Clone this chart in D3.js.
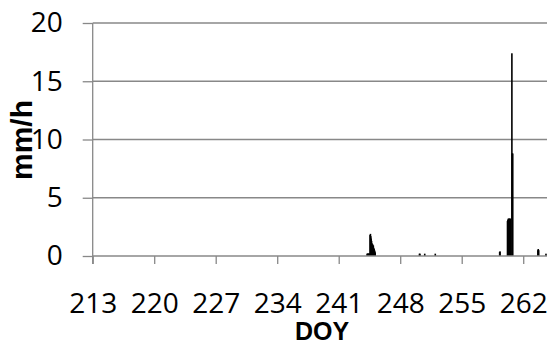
<!DOCTYPE html>
<html>
<head>
<meta charset="utf-8">
<script src="https://cdn.jsdelivr.net/npm/d3@7"></script>
<style>
  html, body { margin: 0; padding: 0; background: #fff; }
  svg { display: block; font-family: "Open Sans", sans-serif; }
</style>
</head>
<body>
<svg id="chart"></svg>
<script>
// hourly rainfall, only the non-zero hours (DOY as fraction of day)
const doy = [
  244.15, 244.19, 244.23, 244.27, 244.31, 244.35, 244.40, 244.44,
  244.48, 244.52, 244.56, 244.60, 244.65,
  244.69, 244.73, 244.77, 244.81, 244.85,
  244.90, 244.94, 244.98, 245.02, 245.06,
  250.10, 250.15, 250.70, 251.90,
  259.23, 259.27,
  260.12, 260.17, 260.21, 260.25, 260.29, 260.33, 260.37, 260.42, 260.46,
  260.62, 260.67, 260.71,
  263.58, 263.62, 263.67, 264.50
];
const rain = [
  0.2, 0.2, 0.2, 0.2, 0.2, 0.2, 0.2, 0.2,
  1.8, 1.9, 1.7, 1.5, 1.3,
  1.1, 1.0, 1.0, 0.9, 0.9,
  0.7, 0.6, 0.5, 0.4, 0.3,
  0.2, 0.2, 0.2, 0.2,
  0.35, 0.4,
  3.0, 3.1, 3.2, 3.2, 3.2, 3.2, 3.2, 3.2, 3.2,
  17.4, 8.8, 8.8,
  0.5, 0.6, 0.5, 0.2
];
const xTicks = [213, 220, 227, 234, 241, 248, 255, 262];
const yTicks = [0, 5, 10, 15, 20];

class RainChart {

  constructor(_config, _data) {
    this.config = {
      parentElement: _config.parentElement,
      containerWidth: 547,
      containerHeight: 345,
      margin: {top: 23, right: 0, bottom: 89, left: 92.7}
    }
    this.data = _data;
    this.initVis();
  }

  initVis() {
    let vis = this;
    const m = vis.config.margin;

    vis.svg = d3.select(vis.config.parentElement)
        .attr('width', vis.config.containerWidth)
        .attr('height', vis.config.containerHeight);

    // 7 days = 61.5 px
    vis.xScale = d3.scaleLinear()
        .domain([213, 265])
        .range([m.left, m.left + 52 * 8.786]);

    vis.yScale = d3.scaleLinear()
        .domain([0, 20])
        .range([vis.config.containerHeight - m.bottom, m.top]);

    vis.chart = vis.svg.append('g');

    // gridlines
    vis.chart.append('g')
      .selectAll('line')
      .data(yTicks.filter(d => d > 0))
      .join('line')
        .attr('x1', m.left)
        .attr('x2', vis.config.containerWidth)
        .attr('y1', d => vis.yScale(d))
        .attr('y2', d => vis.yScale(d))
        .attr('stroke', '#888')
        .attr('stroke-width', 1.3);

    vis.barG = vis.chart.append('g');

    // y axis
    const yAxis = d3.axisLeft(vis.yScale)
        .tickValues(yTicks)
        .tickSize(10)
        .tickPadding(20);
    vis.yAxisG = vis.chart.append('g')
        .attr('transform', `translate(${m.left},0)`)
        .call(yAxis);

    // x axis
    const xAxis = d3.axisBottom(vis.xScale)
        .tickValues(xTicks)
        .tickSize(8)
        .tickPadding(29);
    vis.xAxisG = vis.chart.append('g')
        .attr('transform', `translate(0,${vis.yScale(0)})`)
        .call(xAxis);

    [vis.yAxisG, vis.xAxisG].forEach(g => {
      g.select('.domain').attr('stroke', '#888').attr('stroke-width', 1.3);
      g.selectAll('.tick line').attr('stroke', '#888').attr('stroke-width', 1.3);
      g.selectAll('.tick text')
        .attr('fill', '#000')
        .style('font-family', '"Open Sans", sans-serif')
        .style('font-size', '28px');
    });
    vis.yAxisG.select('.domain').attr('d', `M-0,${vis.yScale(20)}V${vis.yScale(0) + 8}`);
    vis.xAxisG.select('.domain').attr('d', `M${m.left},0H${vis.config.containerWidth}`);

    // axis titles
    vis.chart.append('text')
        .attr('x', 322)
        .attr('y', 340)
        .attr('text-anchor', 'middle')
        .style('font-family', '"Liberation Sans", sans-serif')
        .style('font-size', '25px')
        .style('font-weight', 'bold')
        .text('DOY');

    vis.chart.append('text')
        .attr('transform', 'translate(32,140) rotate(-90)')
        .attr('text-anchor', 'middle')
        .style('font-family', '"Liberation Sans", sans-serif')
        .style('font-size', '30px')
        .style('font-weight', 'bold')
        .text('mm/h');

    vis.updateVis();
  }

  updateVis() {
    let vis = this;
    vis.rows = vis.data.doy.map((d, i) => ({doy: d, value: vis.data.rain[i]}));
    vis.renderVis();
  }

  renderVis() {
    let vis = this;
    const hourW = vis.xScale(213 + 1 / 24) - vis.xScale(213);
    vis.barG.selectAll('rect')
      .data(vis.rows)
      .join('rect')
        .attr('x', d => vis.xScale(d.doy))
        .attr('width', Math.max(1.6, hourW + 0.8))
        .attr('y', d => vis.yScale(d.value))
        .attr('height', d => vis.yScale(0) - vis.yScale(d.value))
        .attr('fill', '#000');
  }
}

new RainChart({parentElement: '#chart'}, {doy: doy, rain: rain});
</script>
</body>
</html>
